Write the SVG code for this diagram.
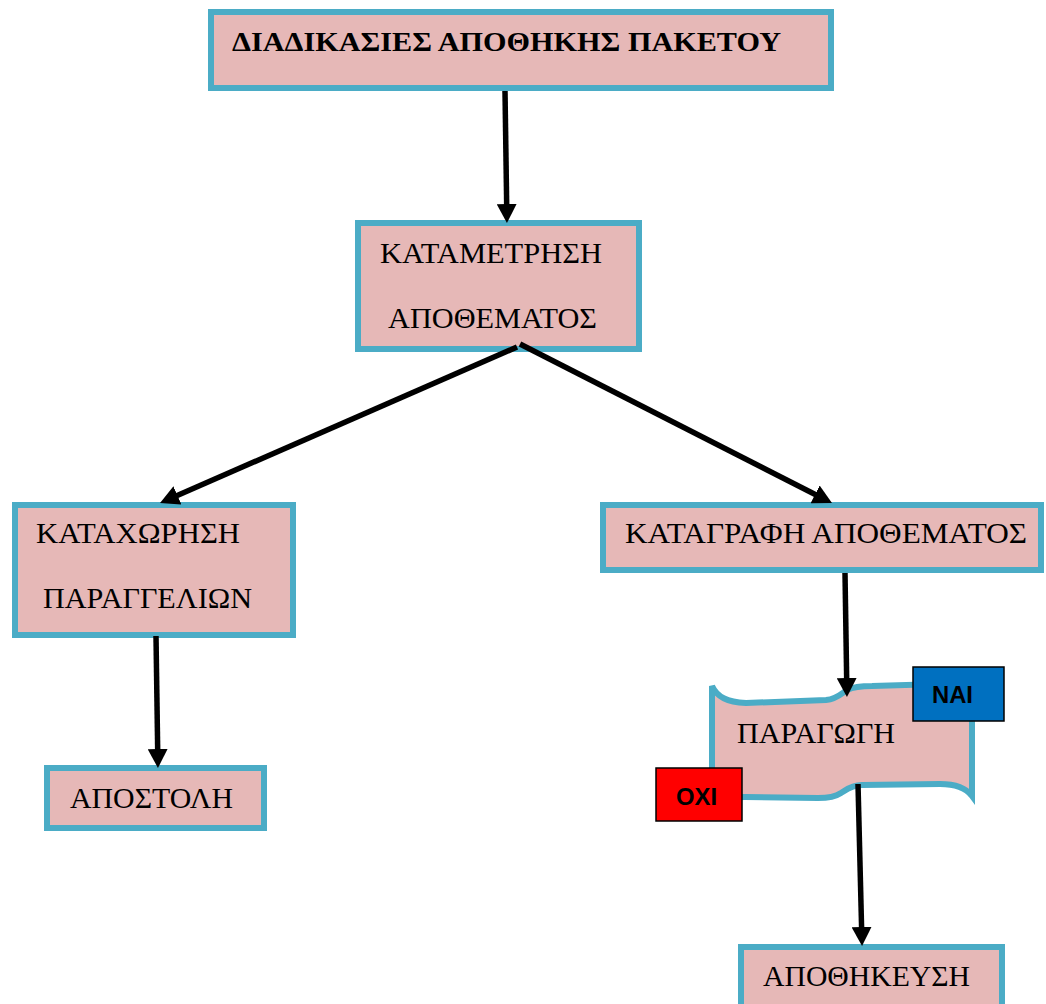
<svg xmlns="http://www.w3.org/2000/svg" width="1046" height="1004" viewBox="0 0 1046 1004">
  <style>
    .box { fill: #E6B8B7; stroke: #4BACC6; stroke-width: 6; }
    .lbl { font-family: "Liberation Serif", "Times New Roman", serif; font-size: 30px; fill: #000; }
    .ttl { font-family: "Liberation Serif", "Times New Roman", serif; font-size: 28px; font-weight: bold; fill: #000; }
    .tag { font-family: "Liberation Sans", Arial, sans-serif; font-size: 23px; font-weight: bold; fill: #000; }
    .tagbox { stroke: #000; stroke-width: 1.5; }
    .conn { stroke: #000; stroke-width: 5.5; fill: none; marker-end: url(#head); }
  </style>
  <defs>
    <marker id="head" markerUnits="userSpaceOnUse" markerWidth="20" markerHeight="20" refX="9" refY="10" orient="auto">
      <path d="M0,0 L19,10 L0,20 Z" fill="#000"/>
    </marker>
  </defs>
  <rect width="1046" height="1004" fill="#fff"/>

  <g id="node-title">
    <rect class="box" x="211" y="12" width="620" height="76"/>
    <text class="ttl" x="232" y="51" textLength="549" lengthAdjust="spacingAndGlyphs">ΔΙΑΔΙΚΑΣΙΕΣ ΑΠΟΘΗΚΗΣ ΠΑΚΕΤΟΥ</text>
  </g>

  <g id="node-katametrisi">
    <rect class="box" x="358" y="223" width="281" height="126"/>
    <text class="lbl" x="380" y="263" textLength="222" lengthAdjust="spacingAndGlyphs">ΚΑΤΑΜΕΤΡΗΣΗ</text>
    <text class="lbl" x="388" y="328" textLength="209" lengthAdjust="spacingAndGlyphs">ΑΠΟΘΕΜΑΤΟΣ</text>
  </g>

  <g id="node-kataxorisi">
    <rect class="box" x="15" y="505" width="278" height="130"/>
    <text class="lbl" x="36" y="543" textLength="204" lengthAdjust="spacingAndGlyphs">ΚΑΤΑΧΩΡΗΣΗ</text>
    <text class="lbl" x="43" y="608" textLength="209" lengthAdjust="spacingAndGlyphs">ΠΑΡΑΓΓΕΛΙΩΝ</text>
  </g>

  <g id="node-katagrafi">
    <rect class="box" x="603" y="505" width="438" height="65"/>
    <text class="lbl" x="625" y="543" textLength="402" lengthAdjust="spacingAndGlyphs">ΚΑΤΑΓΡΑΦΗ ΑΠΟΘΕΜΑΤΟΣ</text>
  </g>

  <g id="node-apostoli">
    <rect class="box" x="47" y="768" width="217" height="60"/>
    <text class="lbl" x="70" y="808" textLength="163" lengthAdjust="spacingAndGlyphs">ΑΠΟΣΤΟΛΗ</text>
  </g>

  <g id="node-paragogi">
    <!-- wave-shaped decision block -->
    <path class="box" stroke-width="5" stroke-linejoin="miter" d="M712,686 C717,697 727,702 746,703 L826,700 C837,699 842,693 847,690 C853,687 860,686 872,686 L972,683 L972,796 C966,788 955,784 940,784 L862,785 C851,785 846,790 841,793 C835,797 829,798 818,798 L745,797 C730,797 718,798 712,800 Z"/>
    <text class="lbl" x="737" y="743" textLength="158" lengthAdjust="spacingAndGlyphs">ΠΑΡΑΓΩΓΗ</text>
  </g>

  <g id="node-nai">
    <rect class="tagbox" x="913" y="667" width="91" height="54" fill="#0070C0"/>
    <text class="tag" x="932" y="703" textLength="41" lengthAdjust="spacingAndGlyphs">ΝΑΙ</text>
  </g>

  <g id="node-oxi">
    <rect class="tagbox" x="656" y="768" width="86" height="53" fill="#FF0000"/>
    <text class="tag" x="676" y="805" textLength="41" lengthAdjust="spacingAndGlyphs">ΟΧΙ</text>
  </g>

  <g id="node-apothikefsi">
    <rect class="box" x="741" y="947" width="261" height="80"/>
    <text class="lbl" x="763" y="986" textLength="207" lengthAdjust="spacingAndGlyphs">ΑΠΟΘΗΚΕΥΣΗ</text>
  </g>

  <g id="connectors">
    <line class="conn" x1="505" y1="91" x2="506.8" y2="213"/>
    <line class="conn" x1="517" y1="347" x2="169.2" y2="499"/>
    <line class="conn" x1="520" y1="344" x2="823.1" y2="498.5"/>
    <line class="conn" x1="845" y1="573" x2="846.8" y2="687"/>
    <line class="conn" x1="156" y1="636" x2="157.8" y2="758"/>
    <line class="conn" x1="858" y1="784" x2="861.8" y2="936"/>
  </g>
</svg>
